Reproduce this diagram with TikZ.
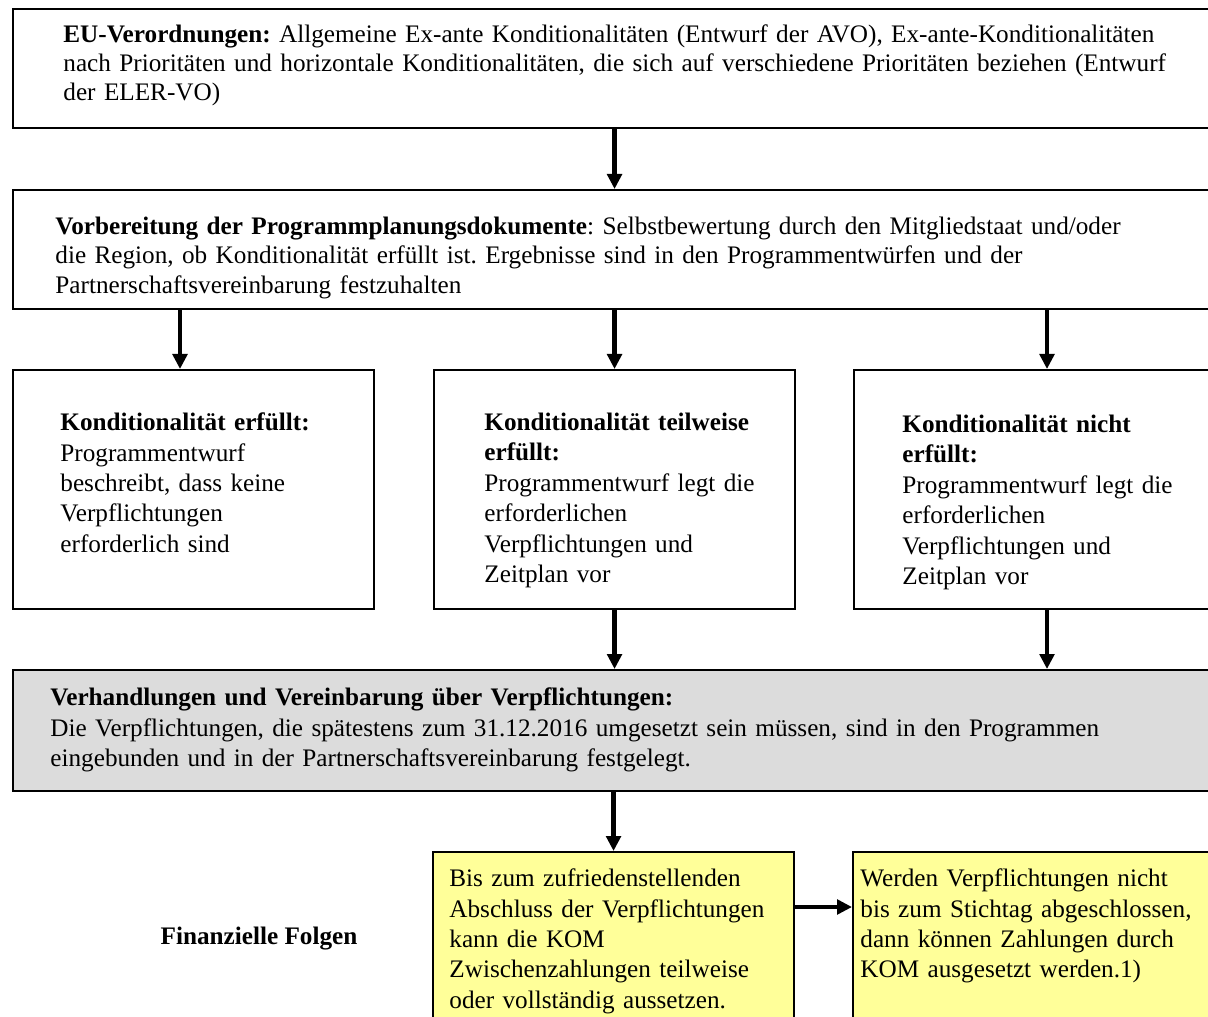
\documentclass[tikz,border=0pt]{standalone}
\usepackage{fontspec}
\setmainfont{Liberation Serif}
\usepackage{xcolor}
\usepackage{tikz}
\usetikzlibrary{arrows.meta,positioning}
\definecolor{negogray}{RGB}{220,220,220}
\definecolor{penaltyyellow}{RGB}{255,255,153}
\newlength\px
\setlength\px{0.48pt}
\frenchspacing

\begin{document}
\begin{tikzpicture}[
    x=0.48pt, y=-0.48pt,
    box/.style={draw, line width=1pt, anchor=north west, inner sep=0pt},
    boxtext/.style={inner sep=0pt, align=left, text width=#1,
                    font=\fontsize{12.1}{14.6}\selectfont},
    boxtext/.default=310\px,
    arrow/.style={-{Triangle[length=7.2pt, width=7pt]}, line width=2pt}
]
\useasboundingbox (0,0) rectangle (1208,1017);

% boxes
\node[box, minimum width=1218\px, minimum height=119\px] (eu) at (12,8) {};
\node[box, minimum width=1218\px, minimum height=119\px] (prep) at (12,189) {};
\node[box, minimum width=361\px, minimum height=239\px] (ok) at (12,369) {};
\node[box, minimum width=361\px, minimum height=239\px] (part) at (433,369) {};
\node[box, minimum width=361\px, minimum height=239\px] (notok) at (853,369) {};
\node[box, fill=negogray, minimum width=1218\px, minimum height=121\px] (nego) at (12,669) {};
\node[box, fill=penaltyyellow, minimum width=361\px, minimum height=190\px] (susp) at (432,851) {};
\node[box, fill=penaltyyellow, minimum width=378\px, minimum height=190\px] (stop) at (852,851) {};

% texts
\node[boxtext=1160\px, font=\fontsize{12.1}{14}\selectfont, below right=16.5\px and 51\px of eu.north west] (eu-text)
    {\textbf{EU-Verordnungen:} Allgemeine Ex-ante Konditionalitäten (Entwurf der AVO), Ex-ante-Konditionalitäten\\
     nach Prioritäten und horizontale Konditionalitäten, die sich auf verschiedene Prioritäten beziehen (Entwurf\\
     der ELER-VO)};
\node[boxtext=1160\px, font=\fontsize{12.1}{14.2}\selectfont, below right=27.5\px and 43\px of prep.north west] (prep-text)
    {\textbf{Vorbereitung der Programmplanungsdokumente}: Selbstbewertung durch den Mitgliedstaat und/oder\\
     die Region, ob Konditionalität erfüllt ist. Ergebnisse sind in den Programmentwürfen und der\\
     Partnerschaftsvereinbarung festzuhalten};
\node[boxtext, below right=43.5\px and 48\px of ok.north west] (ok-text)
    {\textbf{Konditionalität erfüllt:}\\ Programmentwurf\\ beschreibt, dass keine\\ Verpflichtungen\\ erforderlich sind};
\node[boxtext, below right=43.5\px and 51\px of part.north west] (part-text)
    {\textbf{Konditionalität teilweise}\\ \textbf{erfüllt:}\\ Programmentwurf legt die\\ erforderlichen\\ Verpflichtungen und\\ Zeitplan vor};
\node[boxtext, below right=45.5\px and 49\px of notok.north west] (notok-text)
    {\textbf{Konditionalität nicht}\\ \textbf{erfüllt:}\\ Programmentwurf legt die\\ erforderlichen\\ Verpflichtungen und\\ Zeitplan vor};
\node[boxtext=1160\px, below right=18.5\px and 38\px of nego.north west] (nego-text)
    {\textbf{Verhandlungen und Vereinbarung über Verpflichtungen:}\\
     Die Verpflichtungen, die spätestens zum 31.12.2016 umgesetzt sein müssen, sind in den Programmen\\
     eingebunden und in der Partnerschaftsvereinbarung festgelegt.};
\node[boxtext=340\px, below right=17.5\px and 17\px of susp.north west] (susp-text)
    {Bis zum zufriedenstellenden\\ Abschluss der Verpflichtungen\\ kann die KOM\\ Zwischenzahlungen teilweise\\ oder vollständig aussetzen.};
\node[boxtext=350\px, below right=17.5\px and 8\px of stop.north west] (stop-text)
    {Werden Verpflichtungen nicht\\ bis zum Stichtag abgeschlossen,\\ dann können Zahlungen durch\\ KOM ausgesetzt werden.1)};
\node[inner sep=0pt, font=\fontsize{12.1}{14.6}\selectfont\bfseries] (fin) at (259,939) {Finanzielle Folgen};

% connectors
\draw[arrow] (eu.south -| part.north) -- (prep.north -| part.north);
\draw[arrow] (prep.south -| 180,0) -- (ok.north -| 180,0);
\draw[arrow] (prep.south -| part.north) -- (part.north);
\draw[arrow] (prep.south -| 1047,0) -- (notok.north -| 1047,0);
\draw[arrow] (part.south) -- (nego.north -| part.south);
\draw[arrow] (notok.south -| 1047,0) -- (nego.north -| 1047,0);
\draw[arrow] (nego.south -| susp.north) -- (susp.north);
\draw[arrow] (susp.east |- 0,907) -- (stop.west |- 0,907);

\end{tikzpicture}
\end{document}
